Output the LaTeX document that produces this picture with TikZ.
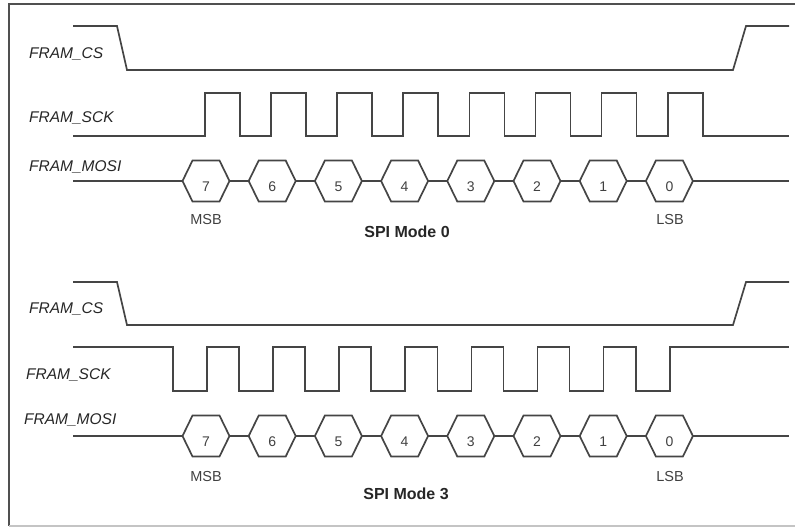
\documentclass[tikz,border=0pt]{standalone}
\usepackage{fontspec}
\setmainfont{Liberation Sans}
\definecolor{sig}{HTML}{454545}
\definecolor{txt}{HTML}{262626}
\definecolor{dig}{HTML}{404040}
\definecolor{frame}{HTML}{505050}
\definecolor{framelight}{HTML}{C4C4C4}
\begin{document}
\begin{tikzpicture}[x=1pt,y=-1pt,
  sigline/.style={draw=sig, line width=1.7pt, line join=miter},
  lbl/.style={font=\itshape\fontsize{15.5}{18}\selectfont, text=txt, anchor=base west, inner sep=0pt},
  diglbl/.style={font=\fontsize{14}{16}\selectfont, text=dig, anchor=base, inner sep=0pt},
  bitlbl/.style={font=\fontsize{14.5}{17}\selectfont, text=dig, anchor=base, inner sep=0pt},
  modelbl/.style={font=\bfseries\fontsize{16}{19}\selectfont, text=txt, anchor=base, inner sep=0pt}]
\useasboundingbox (0,0) rectangle (795,528);
% frame
\draw[draw=frame, line width=1.5pt] (795,4) -- (9,4) -- (9,526);
\draw[draw=framelight, line width=1.2pt] (9,526) -- (795,526);

% ---------------- SPI Mode 0 ----------------
\node[lbl] (cs0) at (29,58) {FRAM\_CS};
\node[lbl] (sck0) at (29,122) {FRAM\_SCK};
\node[lbl] (mosi0) at (29,171) {FRAM\_MOSI};
\draw[sigline] (73,26) -- (117,26) -- (127,70) -- (733,70) -- (746,26) -- (789,26);
\draw[sigline] (73,136) \foreach \k in {0,...,7}{
  -- ({205+66.1*\k},136) -- ({205+66.1*\k},93) -- ({240+66.1*\k},93) -- ({240+66.1*\k},136)}
  -- (789,136);
\coordinate (m0s) at (73,181);
\coordinate (m0e) at (789,181);
\foreach \k in {0,...,7}{
  \pgfmathsetmacro{\xc}{206+66.2*\k}
  \pgfmathtruncatemacro{\d}{7-\k}
  \coordinate (h0\k w) at ({\xc-23.5},181);
  \coordinate (h0\k e) at ({\xc+23.5},181);
  \draw[sigline] (h0\k w) -- ({\xc-13.5},160.5) -- ({\xc+13.5},160.5) -- (h0\k e)
     -- ({\xc+13.5},201.5) -- ({\xc-13.5},201.5) -- cycle;
  \node[diglbl] (d0\k) at (\xc,191) {\d};
}
\draw[sigline] (m0s) -- (h00w);
\foreach \k [evaluate=\k as \n using int(\k+1)] in {0,...,6}{
  \draw[sigline] (h0\k e) -- (h0\n w);
}
\draw[sigline] (h07e) -- (m0e);
\node[bitlbl] (msb0) at (206,224) {MSB};
\node[bitlbl] (lsb0) at (670,224) {LSB};
\node[modelbl] (mode0) at (407,237) {SPI Mode 0};

% ---------------- SPI Mode 3 ----------------
\node[lbl] (cs3) at (29,313) {FRAM\_CS};
\node[lbl] (sck3) at (26,379) {FRAM\_SCK};
\node[lbl] (mosi3) at (24,424) {FRAM\_MOSI};
\draw[sigline] (73,282) -- (117,282) -- (127,325) -- (733,325) -- (746,282) -- (789,282);
\draw[sigline] (73,347) \foreach \k in {0,...,7}{
  -- ({173+66.1*\k},347) -- ({173+66.1*\k},391) -- ({207+66.1*\k},391) -- ({207+66.1*\k},347)}
  -- (789,347);
\coordinate (m3s) at (73,436);
\coordinate (m3e) at (789,436);
\foreach \k in {0,...,7}{
  \pgfmathsetmacro{\xc}{206+66.2*\k}
  \pgfmathtruncatemacro{\d}{7-\k}
  \coordinate (h3\k w) at ({\xc-23.5},436);
  \coordinate (h3\k e) at ({\xc+23.5},436);
  \draw[sigline] (h3\k w) -- ({\xc-13.5},415.5) -- ({\xc+13.5},415.5) -- (h3\k e)
     -- ({\xc+13.5},456.5) -- ({\xc-13.5},456.5) -- cycle;
  \node[diglbl] (d3\k) at (\xc,446) {\d};
}
\draw[sigline] (m3s) -- (h30w);
\foreach \k [evaluate=\k as \n using int(\k+1)] in {0,...,6}{
  \draw[sigline] (h3\k e) -- (h3\n w);
}
\draw[sigline] (h37e) -- (m3e);
\node[bitlbl] (msb3) at (206,481) {MSB};
\node[bitlbl] (lsb3) at (670,481) {LSB};
\node[modelbl] (mode3) at (406,499) {SPI Mode 3};
\end{tikzpicture}
\end{document}
